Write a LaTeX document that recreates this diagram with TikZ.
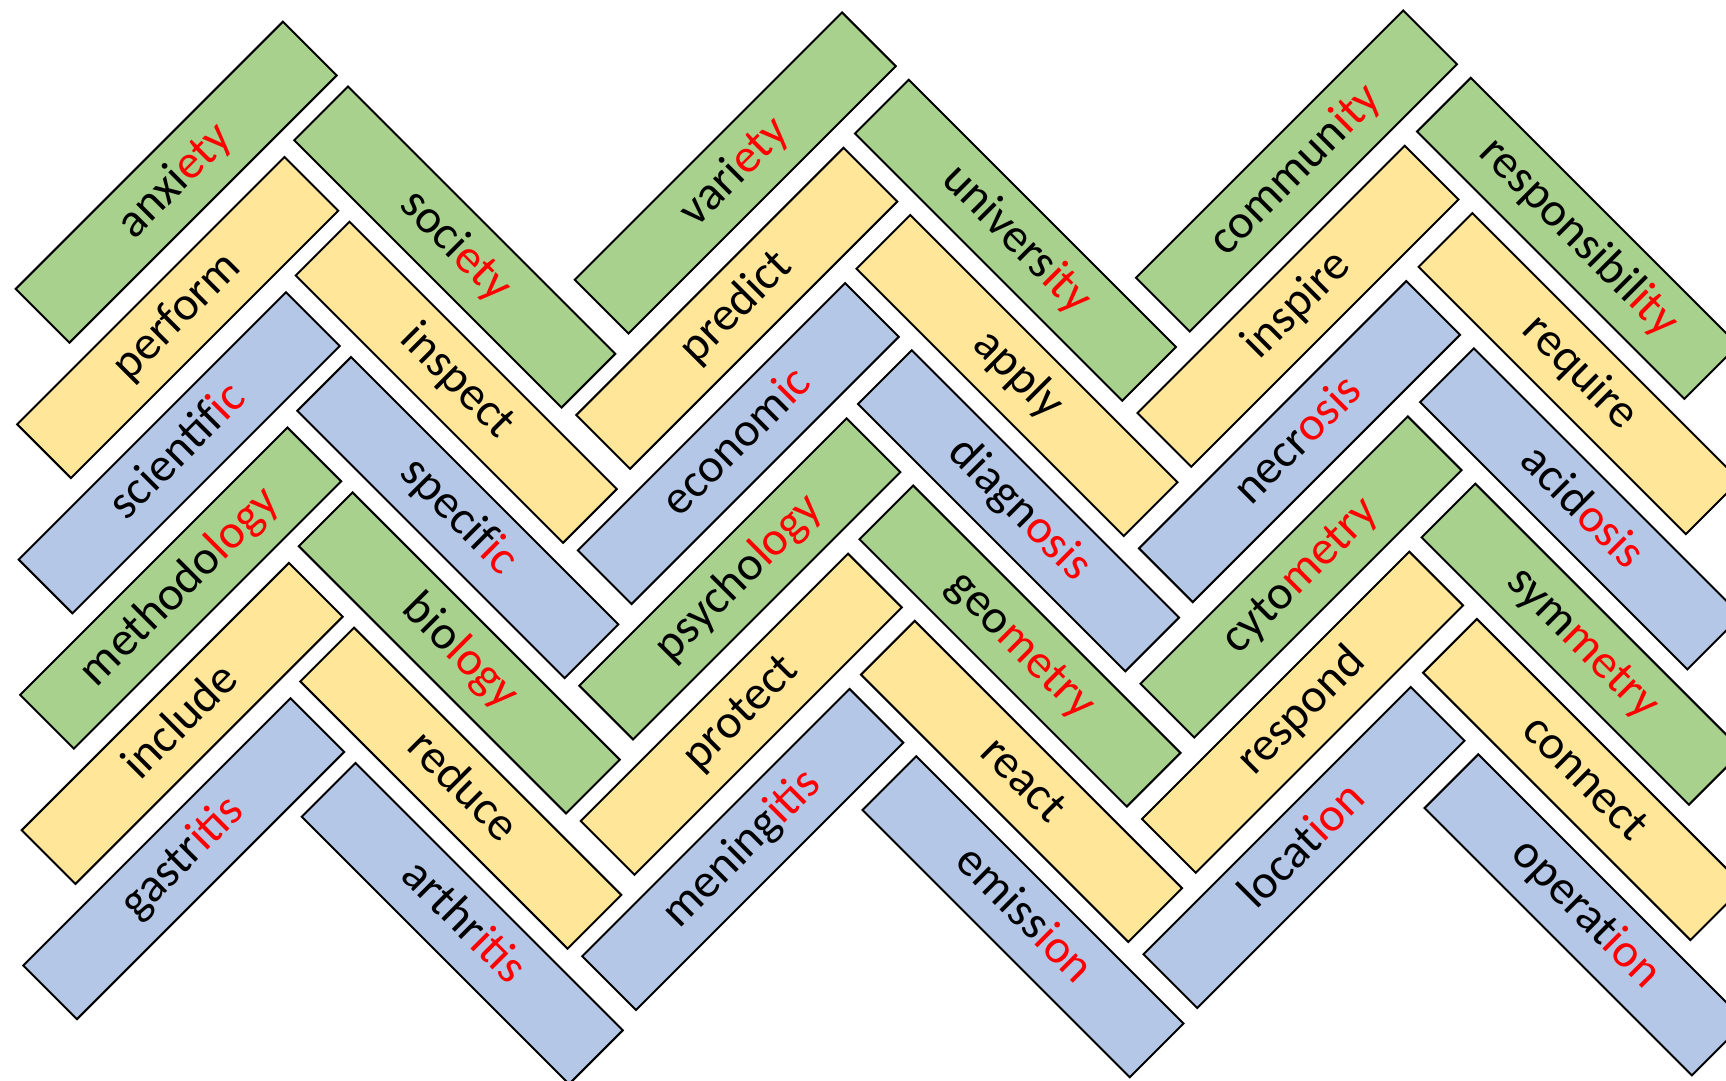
\documentclass[tikz,border=0pt]{standalone}
\usepackage{fontspec}
\setmainfont{Carlito}

\definecolor{brickgreen}{HTML}{A9D18E}
\definecolor{brickyellow}{HTML}{FFE699}
\definecolor{brickblue}{HTML}{B4C7E7}
\newcommand{\sfx}[1]{\textcolor{red}{#1}}

\tikzset{
  brick/.style={draw=black, line width=2pt, minimum width=378pt, minimum height=76pt,
    inner sep=0pt, text height=35.5pt, text depth=12.5pt, font=\fontsize{48}{58}\selectfont},
  riser/.style={brick, rotate=45},
  faller/.style={brick, rotate=-45},
  greenbrick/.style={fill=brickgreen},
  yellowbrick/.style={fill=brickyellow},
  bluebrick/.style={fill=brickblue},
}

\begin{document}
\begin{tikzpicture}[x=1pt, y=-1pt]
    \useasboundingbox (0,0) rectangle (1726,1081);
    \clip (0,0) rectangle (1726,1081);
    % first column
    \node[riser, greenbrick]   (anxiety)     at (176.2,182.2) {anxi\sfx{ety}};
    \node[riser, yellowbrick]  (perform)     at ([shift={(1.5,135.3)}]anxiety.center) {perform};
    \node[riser, bluebrick]    (scientific)  at ([shift={(1.5,135.3)}]perform.center) {scientif\sfx{ic}};
    \node[riser, greenbrick]   (methodology) at ([shift={(1.5,135.3)}]scientific.center) {methodo\sfx{logy}};
    \node[riser, yellowbrick]  (include)     at ([shift={(1.5,135.3)}]methodology.center) {include};
    \node[riser, bluebrick]    (gastritis)   at ([shift={(1.5,135.3)}]include.center) {gastr\sfx{itis}};
    \node[faller, greenbrick]  (society)     at (454.8,247.0) {soci\sfx{ety}};
    \node[faller, yellowbrick] (inspect)     at ([shift={(1.5,135.3)}]society.center) {inspect};
    \node[faller, bluebrick]   (specific)    at ([shift={(1.5,135.3)}]inspect.center) {specif\sfx{ic}};
    \node[faller, greenbrick]  (biology)     at ([shift={(1.5,135.3)}]specific.center) {bio\sfx{logy}};
    \node[faller, yellowbrick] (reduce)      at ([shift={(1.5,135.3)}]biology.center) {reduce};
    \node[faller, bluebrick]   (arthritis)   at ([shift={(1.5,135.3)}]reduce.center) {arthr\sfx{itis}};
    % second column
    \node[riser, greenbrick]   (variety)     at (735.3,173.0) {vari\sfx{ety}};
    \node[riser, yellowbrick]  (predict)     at ([shift={(1.5,135.3)}]variety.center) {predict};
    \node[riser, bluebrick]    (economic)    at ([shift={(1.5,135.3)}]predict.center) {econom\sfx{ic}};
    \node[riser, greenbrick]   (psychology)  at ([shift={(1.5,135.3)}]economic.center) {psycho\sfx{logy}};
    \node[riser, yellowbrick]  (protect)     at ([shift={(1.5,135.3)}]psychology.center) {protect};
    \node[riser, bluebrick]    (meningitis)  at ([shift={(1.5,135.3)}]protect.center) {mening\sfx{itis}};
    \node[faller, greenbrick]  (university)  at (1015.5,240.2) {univers\sfx{ity}};
    \node[faller, yellowbrick] (apply)       at ([shift={(1.5,135.3)}]university.center) {apply};
    \node[faller, bluebrick]   (diagnosis)   at ([shift={(1.5,135.3)}]apply.center) {diagn\sfx{osis}};
    \node[faller, greenbrick]  (geometry)    at ([shift={(1.5,135.3)}]diagnosis.center) {geo\sfx{metry}};
    \node[faller, yellowbrick] (react)       at ([shift={(1.5,135.3)}]geometry.center) {react};
    \node[faller, bluebrick]   (emission)    at ([shift={(1.5,135.3)}]react.center) {emiss\sfx{ion}};
    % third column
    \node[riser, greenbrick]   (community)   at (1296.5,171.0) {commun\sfx{ity}};
    \node[riser, yellowbrick]  (inspire)     at ([shift={(1.5,135.3)}]community.center) {inspire};
    \node[riser, bluebrick]    (necrosis)    at ([shift={(1.5,135.3)}]inspire.center) {necr\sfx{osis}};
    \node[riser, greenbrick]   (cytometry)   at ([shift={(1.5,135.3)}]necrosis.center) {cyto\sfx{metry}};
    \node[riser, yellowbrick]  (respond)     at ([shift={(1.5,135.3)}]cytometry.center) {respond};
    \node[riser, bluebrick]    (location)    at ([shift={(1.5,135.3)}]respond.center) {locat\sfx{ion}};
    \node[faller, greenbrick]  (responsibility) at (1577.6,238.3) {responsibil\sfx{ity}};
    \node[faller, yellowbrick] (require)     at ([shift={(1.5,135.3)}]responsibility.center) {require};
    \node[faller, bluebrick]   (acidosis)    at ([shift={(1.5,135.3)}]require.center) {acid\sfx{osis}};
    \node[faller, greenbrick]  (symmetry)    at ([shift={(1.5,135.3)}]acidosis.center) {sym\sfx{metry}};
    \node[faller, yellowbrick] (connect)     at ([shift={(1.5,135.3)}]symmetry.center) {connect};
    \node[faller, bluebrick]   (operation)   at ([shift={(1.5,135.3)}]connect.center) {operat\sfx{ion}};
\end{tikzpicture}
\end{document}
